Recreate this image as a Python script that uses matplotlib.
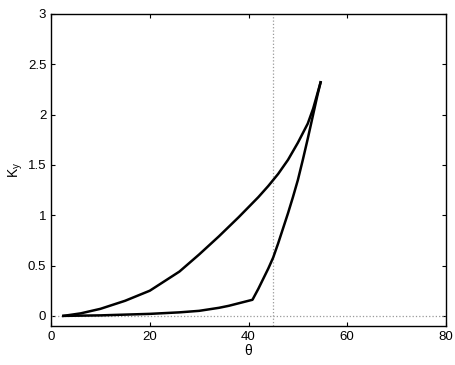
import numpy as np
import matplotlib
matplotlib.use('Agg')
import matplotlib.pyplot as plt

# values
upper_theta = [2.5, 6, 10, 15, 20, 26, 30, 34, 38, 40, 42, 44, 46, 48, 50, 52, 53.1, 54.6]
upper_k = [0.0, 0.025, 0.07, 0.15, 0.25, 0.44, 0.61, 0.79, 0.98, 1.08, 1.18, 1.29, 1.41, 1.55, 1.72, 1.91, 2.06, 2.32]
lower_theta = [2.5, 10, 20, 26, 30, 34, 36, 38, 40.8, 42, 43, 44, 45, 46, 47, 48, 49, 50, 51, 52, 53, 54, 54.6]
lower_k = [0.0, 0.005, 0.02, 0.035, 0.05, 0.08, 0.10, 0.125, 0.16, 0.27, 0.37, 0.47, 0.58, 0.72, 0.87, 1.02, 1.18, 1.35, 1.55, 1.76, 1.98, 2.20, 2.32]
theta_ref = 45
xticks = [0, 20, 40, 60, 80]
yticks = [0, 0.5, 1, 1.5, 2, 2.5, 3]

plt.rcParams['font.family'] = ['Liberation Sans', 'DejaVu Sans']
plt.rcParams['mathtext.fontset'] = 'custom'
plt.rcParams['mathtext.rm'] = 'Liberation Sans'
plt.rcParams['mathtext.it'] = 'Liberation Sans'

fig = plt.figure(figsize=(4.56, 3.65), dpi=100)
ax = fig.add_axes([0.112, 0.107, 0.866, 0.855])

ax.axvline(theta_ref, color='0.6', linestyle=':', linewidth=0.9)
ax.axhline(0, color='0.6', linestyle=':', linewidth=0.9)
ax.plot(upper_theta, upper_k, 'k-', linewidth=1.8, solid_joinstyle='round')
ax.plot(lower_theta, lower_k, 'k-', linewidth=1.8, solid_joinstyle='round')

ax.set_xlim(0, 80)
ax.set_ylim(-0.1, 3)
ax.set_xticks(xticks)
ax.set_yticks(yticks)
ax.set_yticklabels(['0', '0.5', '1', '1.5', '2', '2.5', '3'])
ax.tick_params(direction='in', top=True, right=True, labelsize=9.5, length=3, width=0.8)
for s in ax.spines.values():
    s.set_linewidth(1.0)

ax.set_xlabel('θ', fontsize=10, labelpad=1)
ax.set_ylabel('K$_y$', fontsize=10, labelpad=2)

fig.savefig('out.png', dpi=100)
